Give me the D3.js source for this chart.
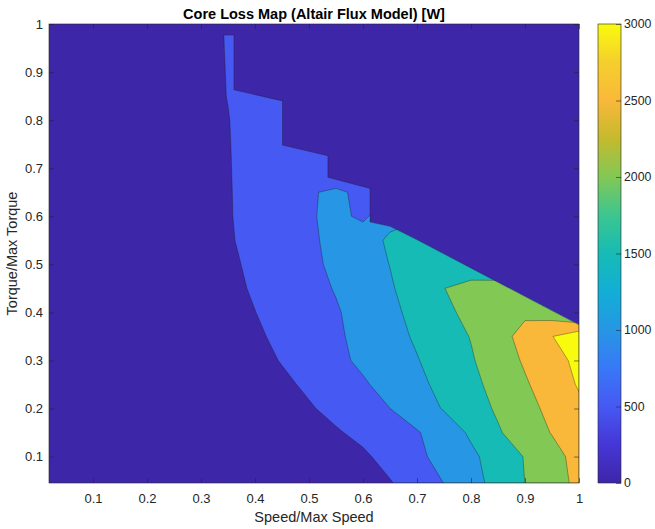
<!DOCTYPE html>
<html>
<head>
<meta charset="utf-8">
<script src="https://cdn.jsdelivr.net/npm/d3@7"></script>
<style>
  body { margin: 0; background: #fff; }
  svg { display: block; font-family: "Liberation Sans", Arial, Helvetica, sans-serif; }
  .axis text { font-size: 13px; fill: #262626; }
  .axis line { stroke: #262626; stroke-width: 0.6; }
  .axis path { display: none; }
</style>
</head>
<body>
<svg width="655" height="529"></svg>
<script>
// grid of the map (speed and torque are per unit of max)
const speeds = [0.0185, 0.1, 0.2, 0.3, 0.35, 0.4, 0.45, 0.5, 0.55, 0.6, 0.65, 0.7, 0.75, 0.8, 0.85, 0.9, 0.95, 1.0]
const torques = [0.045, 0.1, 0.15, 0.2, 0.25, 0.3, 0.35, 0.4, 0.45, 0.5, 0.55, 0.6, 0.65, 0.7, 0.75, 0.8, 0.85, 0.9, 0.95, 1.0]

// core loss [W], one row per torque, one column per speed
const coreLoss = [
  [2, 12, 30, 60, 80, 105, 135, 170, 210, 260, 468, 737, 1006, 1331, 1662, 2002, 2305, 2610],
  [3, 15, 38, 75, 100, 135, 180, 240, 320, 423, 663, 904, 1153, 1408, 1705, 2025, 2342, 2658],
  [4, 22, 55, 105, 140, 190, 250, 330, 452, 622, 792, 963, 1244, 1569, 1954, 2244, 2522, 2800],
  [5, 26, 65, 125, 165, 220, 300, 453, 635, 818, 998, 1266, 1532, 1795, 2062, 2343, 2624, 2904],
  [6, 32, 80, 155, 210, 290, 402, 583, 764, 946, 1161, 1390, 1630, 1880, 2153, 2447, 2744, 3040],
  [7, 38, 95, 185, 250, 341, 526, 711, 896, 1086, 1281, 1477, 1714, 1956, 2253, 2556, 2833, 3111],
  [8, 42, 105, 210, 290, 430, 597, 765, 933, 1128, 1342, 1559, 1786, 2019, 2331, 2653, 2987, 3320],
  [9, 48, 120, 240, 338, 494, 649, 804, 960, 1167, 1392, 1634, 1892, 2130, 2260, 2420, 2250, 1865],
  [10, 55, 140, 280, 390, 547, 704, 862, 1026, 1239, 1453, 1717, 1994, 2150, 2250, 2300, 2200, 1800],
  [11, 62, 160, 320, 423, 583, 744, 904, 1085, 1297, 1509, 1720, 1850, 1709, 1500, 1300, 1100, 900],
  [12, 68, 175, 350, 460, 615, 770, 926, 1115, 1336, 1558, 1700, 1750, 1600, 1400, 1200, 1000, 800],
  [12, 70, 180, 365, 472, 629, 786, 943, 1142, 894, 1387, 1450, 1400, 1300, 1200, 1100, 1000, 900],
  [12, 72, 185, 370, 475, 633, 790, 950, 1090, 880, 700, 650, 620, 600, 580, 560, 540, 520],
  [13, 75, 190, 380, 480, 630, 760, 880, 528, 600, 600, 600, 600, 600, 600, 600, 600, 600],
  [13, 78, 195, 385, 485, 630, 750, 820, 600, 600, 600, 600, 600, 600, 600, 600, 600, 600],
  [14, 80, 200, 395, 490, 640, 760, 800, 600, 600, 600, 600, 600, 600, 600, 600, 600, 600],
  [14, 82, 205, 400, 507, 665, 770, 780, 600, 600, 600, 600, 600, 600, 600, 600, 600, 600],
  [15, 84, 210, 400, 511, 650, 700, 700, 600, 600, 600, 600, 600, 600, 600, 600, 600, 600],
  [15, 86, 215, 400, 516, 650, 700, 700, 600, 600, 600, 600, 600, 600, 600, 600, 600, 600],
  [16, 88, 220, 400, 520, 650, 700, 700, 600, 600, 600, 600, 600, 600, 600, 600, 600, 600]
]

// max torque envelope, nothing is mapped above it
const envelopeSpeed = [0.0185, 0.341, 0.361, 0.361, 0.451, 0.451, 0.535, 0.535, 0.613, 0.613, 0.650, 0.700, 0.800, 0.900, 1.000]
const envelopeTorque = [0.977, 0.977, 0.977, 0.863, 0.840, 0.748, 0.726, 0.681, 0.658, 0.588, 0.579, 0.551, 0.492, 0.433, 0.374]

const levels = [0, 500, 1000, 1500, 2000, 2500, 3000]
const xTicks = [0.1, 0.2, 0.3, 0.4, 0.5, 0.6, 0.7, 0.8, 0.9, 1]
const yTicks = [0.1, 0.2, 0.3, 0.4, 0.5, 0.6, 0.7, 0.8, 0.9, 1]
const colorbarTicks = [0, 500, 1000, 1500, 2000, 2500, 3000]

// parula, sampled by eye
const parulaStops = [
  [0.000, '#3e26a8'], [0.083, '#4536d6'], [0.167, '#4659f3'], [0.250, '#3878f8'],
  [0.333, '#2796e4'], [0.417, '#12aed6'], [0.500, '#17bbb5'], [0.583, '#3cc690'],
  [0.667, '#82c855'], [0.750, '#c4ba2e'], [0.833, '#f9b83a'], [0.917, '#f5cf2d'],
  [1.000, '#f9fb0e']
]

class CoreLossMap {
  constructor(selector) {
    const svg = d3.select(selector)
    const margin = {top: 24, left: 49, right: 76, bottom: 46}
    const width = svg.attr('width') - margin.left - margin.right
    const height = svg.attr('height') - margin.top - margin.bottom

    const xScale = d3.scaleLinear().domain([speeds[0], 1]).range([margin.left, margin.left + width])
    const yScale = d3.scaleLinear().domain([torques[0], 1]).range([margin.top + height, margin.top])
    const parula = d3.scaleLinear()
      .domain(parulaStops.map(d => d[0]))
      .range(parulaStops.map(d => d[1]))
      .interpolate(d3.interpolateRgb)

    this.createContours(svg, xScale, yScale, parula)
    this.createAxes(svg, xScale, yScale)
    this.createColorbar(svg, yScale, parula)
    this.createLabels(svg, xScale, yScale)
  }

  createContours(svg, xScale, yScale, parula) {
    const n = speeds.length
    const m = torques.length
    const maxLevel = levels[levels.length - 1]

    const contours = d3.contours()
      .size([n, m])
      .thresholds(levels)(coreLoss.flat())

    // contour grid coords -> data -> pixels
    const speedAt = d3.scaleLinear().domain(d3.range(n)).range(speeds).clamp(true)
    const torqueAt = d3.scaleLinear().domain(d3.range(m)).range(torques).clamp(true)
    const project = d3.geoTransform({
      point(px, py) {
        this.stream.point(xScale(speedAt(px - 0.5)), yScale(torqueAt(py - 0.5)))
      }
    })
    const path = d3.geoPath(project)

    const [x0, x1] = xScale.range()
    const [y0, y1] = yScale.range()

    svg.append('rect')
      .attr('x', x0).attr('y', y1)
      .attr('width', x1 - x0).attr('height', y0 - y1)
      .attr('fill', parula(0))

    const envelope = envelopeSpeed.map((s, i) => [xScale(s), yScale(envelopeTorque[i])])
    const clipPoints = envelope.concat([[xScale(1), yScale(torques[0])], [xScale(speeds[0]), yScale(torques[0])]])

    svg.append('clipPath')
      .attr('id', 'envelope')
      .append('path')
      .attr('d', d3.line()(clipPoints) + 'Z')

    svg.append('g')
      .attr('clip-path', 'url(#envelope)')
      .selectAll('path')
      .data(contours.filter(d => d.value > 0))
      .join('path')
      .attr('d', path)
      .attr('fill', d => parula(d.value / maxLevel))
      .attr('stroke', '#1a1a1a')
      .attr('stroke-opacity', 0.7)
      .attr('stroke-width', 0.5)

    svg.append('path')
      .attr('d', d3.line()(envelope.slice(1)))
      .attr('fill', 'none')
      .attr('stroke', '#1a1a1a')
      .attr('stroke-opacity', 0.7)
      .attr('stroke-width', 0.5)
  }

  createAxes(svg, xScale, yScale) {
    const [x0, x1] = xScale.range()
    const [y0, y1] = yScale.range()
    const fmt = d3.format('~g')

    svg.append('g')
      .attr('class', 'axis')
      .attr('transform', 'translate(0,' + y0 + ')')
      .call(d3.axisBottom(xScale).tickValues(xTicks).tickFormat(fmt)
        .tickSizeInner(-5).tickSizeOuter(0).tickPadding(11))

    svg.append('g')
      .attr('class', 'axis')
      .attr('transform', 'translate(0,' + y1 + ')')
      .call(d3.axisTop(xScale).tickValues(xTicks).tickFormat('')
        .tickSizeInner(-5).tickSizeOuter(0))

    svg.append('g')
      .attr('class', 'axis')
      .attr('transform', 'translate(' + x0 + ',0)')
      .call(d3.axisLeft(yScale).tickValues(yTicks).tickFormat(fmt)
        .tickSizeInner(-5).tickSizeOuter(0).tickPadding(6))

    svg.append('g')
      .attr('class', 'axis')
      .attr('transform', 'translate(' + x1 + ',0)')
      .call(d3.axisRight(yScale).tickValues(yTicks).tickFormat('')
        .tickSizeInner(-5).tickSizeOuter(0))

    svg.append('rect')
      .attr('x', x0).attr('y', y1)
      .attr('width', x1 - x0).attr('height', y0 - y1)
      .attr('fill', 'none')
      .attr('stroke', '#262626')
      .attr('stroke-width', 0.6)
  }

  createColorbar(svg, yScale, parula) {
    const [y0, y1] = yScale.range()
    const left = 598
    const barWidth = 23
    const maxLevel = levels[levels.length - 1]

    const grad = svg.append('defs').append('linearGradient')
      .attr('id', 'parula')
      .attr('x1', 0).attr('y1', 1).attr('x2', 0).attr('y2', 0)

    grad.selectAll('stop')
      .data(parulaStops)
      .join('stop')
      .attr('offset', d => d[0])
      .attr('stop-color', d => d[1])

    svg.append('rect')
      .attr('x', left).attr('y', y1)
      .attr('width', barWidth).attr('height', y0 - y1)
      .attr('fill', 'url(#parula)')
      .attr('stroke', '#262626')
      .attr('stroke-width', 0.6)

    const cScale = d3.scaleLinear().domain([0, maxLevel]).range([y0, y1])

    const axis = svg.append('g')
      .attr('class', 'axis')
      .attr('transform', 'translate(' + (left + barWidth) + ',0)')
      .call(d3.axisRight(cScale).tickValues(colorbarTicks).tickFormat(d3.format('d'))
        .tickSizeInner(-5).tickSizeOuter(0).tickPadding(3))

    axis.selectAll('text').style('font-size', '12.3px')
  }

  createLabels(svg, xScale, yScale) {
    const [x0, x1] = xScale.range()
    const [y0, y1] = yScale.range()
    const cx = (x0 + x1) / 2

    svg.append('text')
      .attr('x', cx).attr('y', 18.5)
      .attr('text-anchor', 'middle')
      .style('font-size', '14.5px')
      .style('font-weight', 'bold')
      .attr('fill', '#000')
      .text('Core Loss Map (Altair Flux Model) [W]')

    svg.append('text')
      .attr('x', cx).attr('y', 522)
      .attr('text-anchor', 'middle')
      .style('font-size', '14.5px')
      .attr('fill', '#262626')
      .text('Speed/Max Speed')

    svg.append('text')
      .attr('transform', 'translate(17,' + ((y0 + y1) / 2) + ') rotate(-90)')
      .attr('text-anchor', 'middle')
      .style('font-size', '14.5px')
      .attr('fill', '#262626')
      .text('Torque/Max Torque')
  }
}

new CoreLossMap('svg')
</script>
</body>
</html>
